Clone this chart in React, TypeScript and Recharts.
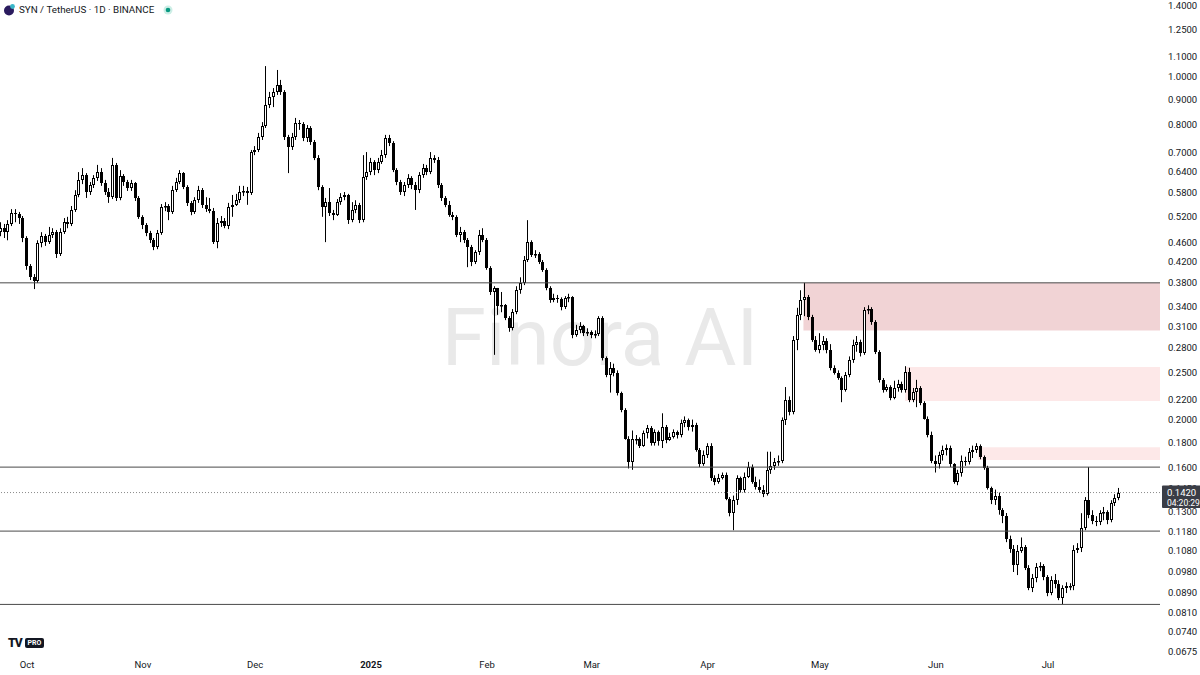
import React from 'react';
import { ComposedChart, Bar, XAxis, YAxis, ReferenceLine, ReferenceArea } from 'recharts';

// Day index 0 = 2024-10-01; first candle = 2024-09-24 (index -7)
const FIRST_DAY = -7;
const firstOpen = 0.482;

const closes = [
  0.491, 0.482, 0.501, 0.527, 0.525, 0.515, 0.469,
  0.411, 0.390, 0.383, 0.458, 0.473, 0.460, 0.476, 0.482, 0.435, 0.482,
  0.505, 0.501, 0.535, 0.574, 0.616, 0.630, 0.582, 0.601, 0.622, 0.639,
  0.607, 0.582, 0.568, 0.661, 0.566, 0.627, 0.610, 0.593, 0.607, 0.566,
  0.518, 0.498, 0.480, 0.464, 0.449, 0.480, 0.542, 0.545, 0.530, 0.587,
  0.610, 0.636, 0.596, 0.553, 0.530, 0.560, 0.587, 0.548, 0.537, 0.532,
  0.460, 0.503, 0.508, 0.496, 0.542, 0.548, 0.560, 0.582, 0.585, 0.579,
  0.702, 0.709, 0.753, 0.793, 0.876, 0.909, 0.931, 0.962, 0.931, 0.753,
  0.719, 0.753, 0.805, 0.801, 0.750, 0.786, 0.736, 0.683, 0.596, 0.542,
  0.555, 0.527, 0.522, 0.555, 0.568, 0.574, 0.510, 0.535, 0.548, 0.510,
  0.624, 0.639, 0.670, 0.645, 0.670, 0.692, 0.750, 0.733, 0.645, 0.610,
  0.582, 0.601, 0.622, 0.601, 0.587, 0.630, 0.651, 0.639, 0.683, 0.676,
  0.601, 0.566, 0.548, 0.522, 0.518, 0.476, 0.482, 0.464, 0.449, 0.419,
  0.439, 0.476, 0.464, 0.407, 0.364, 0.371, 0.341, 0.342, 0.322, 0.307,
  0.331, 0.367, 0.380, 0.423, 0.460, 0.433, 0.435, 0.419, 0.404, 0.371,
  0.350, 0.354, 0.352, 0.339, 0.354, 0.355, 0.297, 0.304, 0.310, 0.300,
  0.302, 0.297, 0.299, 0.322, 0.267, 0.247, 0.255, 0.249, 0.227, 0.209,
  0.183, 0.164, 0.183, 0.183, 0.177, 0.188, 0.192, 0.179, 0.189, 0.181,
  0.193, 0.182, 0.184, 0.189, 0.186, 0.197, 0.200, 0.193, 0.195, 0.173,
  0.162, 0.169, 0.177, 0.152, 0.149, 0.152, 0.154, 0.138, 0.129, 0.137,
  0.152, 0.144, 0.153, 0.160, 0.149, 0.146, 0.144, 0.141, 0.158, 0.161,
  0.164, 0.165, 0.200, 0.219, 0.207, 0.291, 0.327, 0.350, 0.355, 0.324,
  0.291, 0.277, 0.284, 0.289, 0.277, 0.255, 0.249, 0.243, 0.230, 0.247,
  0.264, 0.284, 0.288, 0.273, 0.334, 0.336, 0.316, 0.275, 0.241, 0.230,
  0.233, 0.221, 0.232, 0.236, 0.230, 0.250, 0.219, 0.228, 0.232, 0.216,
  0.201, 0.186, 0.165, 0.162, 0.169, 0.173, 0.175, 0.162, 0.149, 0.156,
  0.165, 0.164, 0.172, 0.173, 0.177, 0.168, 0.159, 0.145, 0.137, 0.140,
  0.131, 0.127, 0.114, 0.109, 0.101, 0.108, 0.110, 0.0996, 0.0906, 0.0951,
  0.100, 0.1005, 0.0955, 0.0886, 0.0941, 0.0924, 0.0865, 0.0906, 0.0915, 0.0915,
  0.1084, 0.1094, 0.1202, 0.137, 0.1277, 0.1241, 0.1235, 0.1289, 0.1295, 0.1247,
  0.1351, 0.1384, 0.142,
];

const highs = [
  0.505, 0.501, 0.510, 0.537, 0.537, 0.530, 0.520,
  0.473, 0.415, 0.396, 0.464, 0.482, 0.478, 0.494, 0.491, 0.487, 0.491,
  0.515, 0.518, 0.545, 0.587, 0.639, 0.651, 0.636, 0.610, 0.630, 0.661,
  0.651, 0.616, 0.593, 0.683, 0.667, 0.645, 0.633, 0.616, 0.616, 0.610,
  0.571, 0.522, 0.503, 0.485, 0.469, 0.487, 0.550, 0.555, 0.550, 0.599,
  0.622, 0.645, 0.639, 0.601, 0.558, 0.568, 0.599, 0.593, 0.568, 0.566,
  0.540, 0.515, 0.520, 0.515, 0.553, 0.574, 0.577, 0.599, 0.599, 0.596,
  0.709, 0.722, 0.768, 0.808, 1.051, 0.931, 0.948, 1.032, 0.985, 0.939,
  0.761, 0.768, 0.824, 0.816, 0.808, 0.797, 0.793, 0.743, 0.692, 0.601,
  0.566, 0.593, 0.535, 0.563, 0.579, 0.582, 0.577, 0.555, 0.560, 0.553,
  0.692, 0.702, 0.683, 0.676, 0.683, 0.709, 0.761, 0.761, 0.739, 0.651,
  0.616, 0.610, 0.633, 0.627, 0.610, 0.639, 0.664, 0.661, 0.702, 0.692,
  0.686, 0.607, 0.571, 0.558, 0.530, 0.522, 0.494, 0.487, 0.469, 0.454,
  0.443, 0.487, 0.491, 0.469, 0.411, 0.374, 0.371, 0.364, 0.344, 0.325,
  0.336, 0.374, 0.390, 0.431, 0.510, 0.464, 0.443, 0.439, 0.423, 0.407,
  0.374, 0.361, 0.359, 0.355, 0.357, 0.361, 0.357, 0.312, 0.316, 0.312,
  0.307, 0.304, 0.304, 0.325, 0.325, 0.269, 0.262, 0.260, 0.252, 0.228,
  0.211, 0.185, 0.190, 0.186, 0.184, 0.190, 0.195, 0.194, 0.191, 0.190,
  0.206, 0.195, 0.188, 0.191, 0.190, 0.200, 0.203, 0.201, 0.200, 0.197,
  0.175, 0.173, 0.179, 0.179, 0.154, 0.155, 0.156, 0.156, 0.139, 0.140,
  0.154, 0.153, 0.156, 0.164, 0.162, 0.153, 0.151, 0.147, 0.172, 0.172,
  0.167, 0.169, 0.202, 0.233, 0.223, 0.296, 0.338, 0.367, 0.380, 0.359,
  0.327, 0.296, 0.300, 0.296, 0.293, 0.285, 0.258, 0.252, 0.245, 0.250,
  0.269, 0.291, 0.296, 0.291, 0.339, 0.342, 0.339, 0.319, 0.277, 0.243,
  0.236, 0.235, 0.240, 0.241, 0.239, 0.257, 0.255, 0.232, 0.241, 0.234,
  0.218, 0.203, 0.189, 0.169, 0.172, 0.177, 0.178, 0.177, 0.163, 0.158,
  0.169, 0.168, 0.175, 0.177, 0.179, 0.178, 0.169, 0.161, 0.146, 0.144,
  0.142, 0.132, 0.129, 0.116, 0.111, 0.111, 0.115, 0.111, 0.101, 0.0969,
  0.102, 0.1024, 0.1015, 0.0964, 0.0959, 0.0969, 0.0941, 0.0919, 0.0932, 0.0928,
  0.1109, 0.112, 0.1289, 0.139, 0.160, 0.1307, 0.1271, 0.1307, 0.1327, 0.1307,
  0.137, 0.1409, 0.1451,
];

const lows = [
  0.473, 0.469, 0.464, 0.496, 0.505, 0.501, 0.460,
  0.404, 0.385, 0.369, 0.380, 0.449, 0.452, 0.456, 0.469, 0.427, 0.431,
  0.478, 0.491, 0.496, 0.530, 0.568, 0.604, 0.566, 0.574, 0.593, 0.613,
  0.599, 0.574, 0.553, 0.563, 0.558, 0.560, 0.599, 0.585, 0.585, 0.558,
  0.513, 0.489, 0.473, 0.458, 0.443, 0.445, 0.476, 0.532, 0.510, 0.525,
  0.582, 0.604, 0.590, 0.545, 0.522, 0.525, 0.553, 0.540, 0.530, 0.527,
  0.456, 0.447, 0.494, 0.491, 0.489, 0.518, 0.545, 0.553, 0.571, 0.548,
  0.574, 0.692, 0.702, 0.743, 0.786, 0.863, 0.867, 0.918, 0.918, 0.743,
  0.636, 0.709, 0.743, 0.779, 0.739, 0.736, 0.726, 0.676, 0.587, 0.518,
  0.460, 0.520, 0.510, 0.520, 0.548, 0.560, 0.501, 0.505, 0.527, 0.503,
  0.505, 0.616, 0.630, 0.630, 0.636, 0.664, 0.683, 0.722, 0.639, 0.601,
  0.574, 0.571, 0.593, 0.590, 0.535, 0.579, 0.622, 0.630, 0.633, 0.667,
  0.593, 0.558, 0.542, 0.518, 0.510, 0.471, 0.460, 0.458, 0.409, 0.411,
  0.415, 0.433, 0.460, 0.404, 0.359, 0.271, 0.327, 0.331, 0.319, 0.302,
  0.304, 0.328, 0.361, 0.376, 0.419, 0.429, 0.427, 0.415, 0.400, 0.367,
  0.346, 0.347, 0.346, 0.334, 0.336, 0.347, 0.293, 0.295, 0.300, 0.296,
  0.296, 0.293, 0.293, 0.296, 0.264, 0.244, 0.227, 0.245, 0.224, 0.207,
  0.182, 0.159, 0.158, 0.178, 0.175, 0.176, 0.183, 0.177, 0.177, 0.177,
  0.175, 0.179, 0.181, 0.183, 0.183, 0.184, 0.193, 0.190, 0.189, 0.172,
  0.160, 0.161, 0.167, 0.150, 0.147, 0.148, 0.151, 0.137, 0.127, 0.119,
  0.134, 0.142, 0.142, 0.152, 0.148, 0.144, 0.142, 0.139, 0.140, 0.155,
  0.158, 0.161, 0.163, 0.195, 0.204, 0.205, 0.277, 0.319, 0.325, 0.319,
  0.288, 0.275, 0.273, 0.277, 0.273, 0.252, 0.247, 0.241, 0.217, 0.228,
  0.244, 0.261, 0.275, 0.269, 0.271, 0.328, 0.312, 0.272, 0.238, 0.227,
  0.228, 0.219, 0.220, 0.228, 0.227, 0.227, 0.217, 0.217, 0.212, 0.214,
  0.200, 0.184, 0.163, 0.156, 0.159, 0.165, 0.169, 0.160, 0.148, 0.147,
  0.153, 0.161, 0.162, 0.167, 0.171, 0.166, 0.158, 0.144, 0.1345, 0.134,
  0.128, 0.123, 0.1125, 0.107, 0.0978, 0.0964, 0.107, 0.0987, 0.0898, 0.0890,
  0.0932, 0.0982, 0.0941, 0.0873, 0.0877, 0.0906, 0.0857, 0.0841, 0.0886, 0.0898,
  0.0898, 0.1069, 0.1074, 0.119, 0.1259, 0.1224, 0.1213, 0.1219, 0.1247, 0.1224,
  0.1235, 0.1333, 0.137,
];

const monthTicks = [0, 31, 61, 92, 123, 151, 182, 212, 243, 273];
const monthLabels = ['Oct', 'Nov', 'Dec', '2025', 'Feb', 'Mar', 'Apr', 'May', 'Jun', 'Jul'];
const priceTicks = [1.4, 1.25, 1.1, 1.0, 0.9, 0.8, 0.7, 0.64, 0.58, 0.52, 0.46, 0.42, 0.38, 0.34, 0.31, 0.28, 0.25, 0.22, 0.2, 0.18, 0.16, 0.145, 0.13, 0.118, 0.108, 0.098, 0.089, 0.081, 0.074, 0.0675];
const levelLines = [0.38, 0.16, 0.1185, 0.084];
const zoneStarts = [207.6, 234.8, 254.3];
const zoneTops = [0.38, 0.256, 0.1757];
const zoneBottoms = [0.304, 0.2182, 0.1654];
const lastPrice = 0.142;
const countdown = '04:20:29';

const X_DOMAIN: [number, number] = [-7.22, 302.94];
const Y_DOMAIN: [number, number] = [0.0675, 1.4];
const zoneColors = ['#f1d3d5', '#fde8e8', '#fde8e8'];

// last price drawn last so its tag covers neighbouring labels, as in the reference
const axisTicks = [...priceTicks, lastPrice];

const data = closes.map((c, i) => ({
  day: FIRST_DAY + i,
  open: i === 0 ? firstOpen : closes[i - 1],
  close: c,
  high: highs[i],
  low: lows[i],
  range: [lows[i], highs[i]],
}));

const Candle = (props: any) => {
  const { x, y, width, height, payload } = props;
  if (x == null || y == null || !payload) return null;
  const top = Math.min(y, y + height);
  const h = Math.abs(height);
  const { open, close, high, low } = payload;
  const lh = Math.log(high);
  const span = lh - Math.log(low);
  const py = (p: number) => (span > 0 ? top + (h * (lh - Math.log(p))) / span : top);
  const c = Math.floor(x + width / 2);
  const up = close >= open;
  const bTop = Math.round(py(Math.max(open, close)));
  const bBot = Math.round(py(Math.min(open, close)));
  const bh = Math.max(1, bBot - bTop);
  return (
    <g>
      <line x1={c + 0.5} x2={c + 0.5} y1={top} y2={top + h} stroke="#000" strokeWidth={1} />
      {up ? (
        <rect x={c - 0.5} y={bTop + 0.5} width={2} height={Math.max(0.5, bh - 1)} fill="#fff" stroke="#000" strokeWidth={1} />
      ) : (
        <rect x={c - 1} y={bTop} width={3} height={bh} fill="#000" />
      )}
    </g>
  );
};

const MonthTick = (props: any) => {
  const { x, y, payload } = props;
  const idx = monthTicks.indexOf(payload.value);
  const label = monthLabels[idx] ?? '';
  return (
    <text x={x} y={y} dy={9} textAnchor="middle" fontSize={9.5} fontWeight={label === '2025' ? 700 : 400} fill="#131722">
      {label}
    </text>
  );
};

const PriceTick = (props: any) => {
  const { x, y, payload } = props;
  const v = payload.value as number;
  if (v === lastPrice) {
    return (
      <g>
        <rect x={x - 6} y={y - 7} width={40} height={22.5} fill="#3a3d46" rx={1} />
        <text x={x - 1} y={y + 3.5} fontSize={9.5} fill="#ffffff">{v.toFixed(4)}</text>
        <text x={x - 1} y={y + 13} fontSize={8.5} fill="#ffffff">{countdown}</text>
      </g>
    );
  }
  return (
    <text x={x} y={y} dy={3.5} fontSize={9.5} fill="#131722">{v.toFixed(4)}</text>
  );
};

export default function App() {
  const font = 'Roboto, "Liberation Sans", Arial, sans-serif';
  return (
    <div style={{ position: 'absolute', left: 0, top: 0, width: 1200, height: 675, background: '#fff', fontFamily: font, overflow: 'hidden' }}>
      <svg width={1200} height={675} style={{ position: 'absolute', left: 0, top: 0 }}>
        <text x={600} y={365} textAnchor="middle" fontSize={80} fill="#e9e9e9" fontFamily={font}>Finora AI</text>
      </svg>
      <div style={{ position: 'absolute', left: 0, top: 0 }}>
        <ComposedChart width={1200} height={675} data={data} margin={{ top: 5, right: 0, left: 0, bottom: 0 }} style={{ fontFamily: font }}>
          <XAxis
            dataKey="day"
            type="number"
            domain={X_DOMAIN}
            allowDataOverflow
            ticks={monthTicks}
            interval={0}
            axisLine={false}
            tickLine={false}
            height={24}
            tick={<MonthTick />}
          />
          <YAxis
            orientation="right"
            scale="log"
            domain={Y_DOMAIN}
            allowDataOverflow
            ticks={axisTicks}
            interval={0}
            width={40}
            axisLine={false}
            tickLine={false}
            tick={<PriceTick />}
          />
          {zoneStarts.map((s, i) => (
            <ReferenceArea key={'z' + i} x1={s} x2={X_DOMAIN[1]} y1={zoneBottoms[i]} y2={zoneTops[i]} fill={zoneColors[i]} fillOpacity={1} stroke="none" ifOverflow="hidden" />
          ))}
          {levelLines.map((v) => (
            <ReferenceLine key={'l' + v} y={v} stroke="#4a4a4a" strokeWidth={1} />
          ))}
          <ReferenceLine y={lastPrice} stroke="#8a8a8a" strokeDasharray="1 2" strokeWidth={1} />
          <Bar dataKey="range" barSize={3} isAnimationActive={false} shape={(p: any) => <Candle {...p} />} />
        </ComposedChart>
      </div>
      <div style={{ position: 'absolute', left: 3, top: 3, display: 'flex', alignItems: 'center', fontSize: 9.8, color: '#131722', whiteSpace: 'nowrap' }}>
        <svg width={13} height={13} style={{ marginRight: 3 }}>
          <circle cx={6} cy={7.5} r={5} fill="#2a1b5e" />
          <circle cx={9.5} cy={3.5} r={2.4} fill="#3ab7c9" />
        </svg>
        <span>SYN / TetherUS · 1D · BINANCE</span>
        <svg width={14} height={12} style={{ marginLeft: 8 }}>
          <circle cx={6} cy={6} r={4.5} fill="#cdeee6" />
          <circle cx={6} cy={6} r={2.3} fill="#089981" />
        </svg>
      </div>
      <div style={{ position: 'absolute', left: 8, top: 637, display: 'flex', alignItems: 'center' }}>
        <span style={{ fontSize: 12, fontWeight: 900, color: '#131722', letterSpacing: -1, lineHeight: '12px' }}>TV</span>
        <span style={{ marginLeft: 3, background: '#131722', color: '#fff', fontSize: 7, fontWeight: 700, padding: '1px 3px', borderRadius: 2, lineHeight: '8px' }}>PRO</span>
      </div>
    </div>
  );
}
